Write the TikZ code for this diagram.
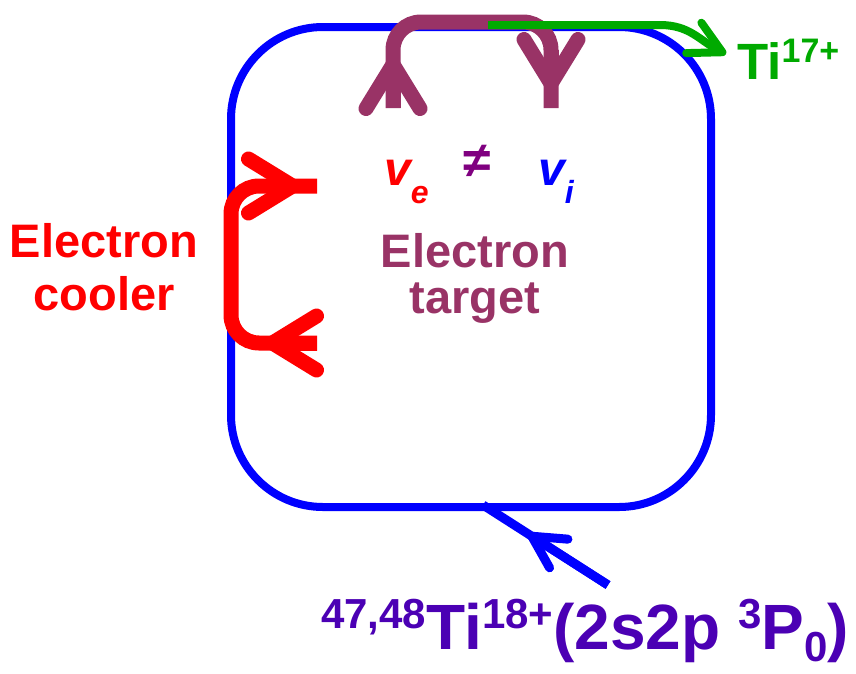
\documentclass[tikz,border=0pt]{standalone}
\usepackage{fontspec}
\setmainfont{Liberation Sans}
\usetikzlibrary{arrows.meta,calc}
\definecolor{ringblue}{RGB}{0,0,255}
\definecolor{coolred}{RGB}{255,0,0}
\definecolor{targetpurple}{RGB}{153,51,102}
\definecolor{neqpurple}{RGB}{128,0,128}
\definecolor{outgreen}{RGB}{0,170,0}
\definecolor{beamviolet}{RGB}{75,0,180}
\newcommand{\shifted}[3]{\raisebox{#1}{\fontsize{#2}{#2}\selectfont #3}}

\begin{document}
\begin{tikzpicture}[x=1pt,y=-1pt,
    ring/.style={draw=ringblue,line width=8pt,rounded corners=92pt},
    ebeam/.style={line width=15pt,rounded corners=28pt},
    bigbarb/.style={-{Straight Barb[length=44pt 0 0,width=54pt 0 0,round]}},
    smallbarb/.style={-{Straight Barb[length=32pt 0 0,width=34pt 0 0,round]}},
    lbl/.style={inner sep=0pt,anchor=base west}]
  \useasboundingbox (0,0) rectangle (856,673);
  % storage ring
  \draw[ring] (231,27) rectangle (711,507);
  % electron cooler
  \coordinate (cin) at (317,343);
  \coordinate (cout) at (317,186);
  \draw[ebeam,coolred] (cin) -- (231,343) -- (231,186) -- (cout);
  \draw[ebeam,coolred,bigbarb] (cin) -- (265,343);
  \draw[ebeam,coolred,bigbarb] (270,186) -- (300,186);
  % electron target
  \coordinate (tin) at (393,108);
  \coordinate (tout) at (551,108);
  \draw[ebeam,targetpurple] (tin) -- (393,22) -- (551,22) -- (tout);
  \draw[ebeam,targetpurple,bigbarb] (tin) -- (393,57);
  \draw[ebeam,targetpurple,bigbarb] (551,50) -- (551,91);
  % recombined ions
  \coordinate (gout) at (488,25);
  \coordinate (gtip) at (726,54);
  \draw[outgreen,line width=8pt,smallbarb] (gout) -- (660,25)
    .. controls (690,25) and (700,41) .. (gtip);
  % injected beam
  \coordinate (inj) at (608,585);
  \coordinate (rin) at (483,505);
  \draw[ringblue,line width=9pt] (inj) -- (rin);
  \draw[ringblue,line width=9pt,smallbarb] (inj) -- ($(inj)!0.64!(rin)$);

  \node[inner sep=0pt,anchor=base,align=center,text=coolred,
    font=\fontsize{47}{53}\selectfont\bfseries] (cooler) at (104,310) {Electron\\cooler};
  \node[inner sep=0pt,anchor=base,align=center,text=targetpurple,
    font=\fontsize{47}{46}\selectfont\bfseries] (target) at (475,313) {Electron\\target};
  \node[lbl,text=coolred,font=\fontsize{48}{48}\selectfont\bfseries\itshape]
    (ve) at (384,185) {v\shifted{-18pt}{32}{e}};
  \node[inner sep=0pt,text=neqpurple,font=\fontsize{50}{50}\selectfont\bfseries]
    (neq) at (477,161) {≠};
  \node[lbl,text=ringblue,font=\fontsize{48}{48}\selectfont\bfseries\itshape]
    (vi) at (538,185) {v\shifted{-18pt}{32}{i}};
  \node[lbl,text=outgreen,font=\fontsize{51}{51}\selectfont\bfseries]
    (tiout) at (737,79) {Ti\shifted{17pt}{34}{17+}};
  \node[lbl,text=beamviolet,font=\fontsize{64}{64}\selectfont\bfseries]
    (tiin) at (321,649) {\shifted{21pt}{42}{47,48}Ti\shifted{21pt}{42}{18+}(2s2p \shifted{21pt}{42}{3}P\shifted{-12pt}{42}{0})};
\end{tikzpicture}
\end{document}
